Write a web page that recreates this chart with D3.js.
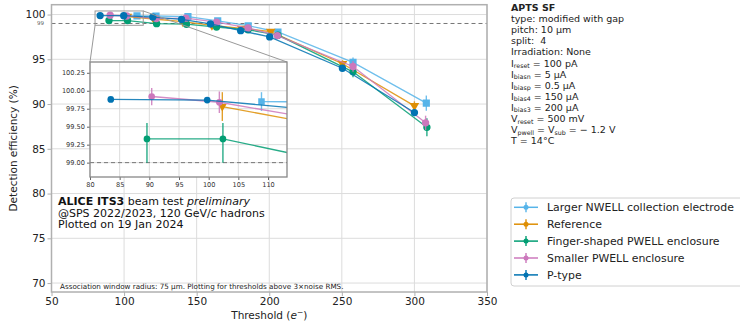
<!DOCTYPE html>
<html>
<head>
<meta charset="utf-8">
<script src="https://cdn.jsdelivr.net/npm/d3@7"></script>
<style>
  body { margin: 0; background: #fff; }
  svg { font-family: "DejaVu Sans", sans-serif; }
</style>
</head>
<body>
<div id="chart"></div>
<script>
// series
let names = ["Larger NWELL collection electrode", "Reference", "Finger-shaped PWELL enclosure", "Smaller PWELL enclosure", "P-type"];
let colors = ["#56b4e9", "#de8f05", "#029e73", "#cc78bc", "#0173b2"];
let symbols = ["square", "triangle", "circle", "circle", "circle"];

let xLarger = [108.9, 122, 144, 164.5, 185.5, 206, 257.7, 308.2];
let yLarger = [99.85, 99.84, 99.76, 99.3, 98.75, 98.05, 94.65, 90.1];
let eLarger = [0.13, 0.12, 0.15, 0.2, 0.25, 0.3, 0.55, 0.85];

let xRef = [102.3, 120.5, 140.5, 160.5, 181, 201, 250.5, 300];
let yRef = [99.78, 99.5, 99.2, 98.8, 98.45, 98.1, 94.5, 89.8];
let eRef = [0.2, 0.15, 0.15, 0.2, 0.2, 0.25, 0.4, 0.5];

let xFinger = [89.6, 102.4, 122.4, 143, 163.7, 185.4, 206, 257.7, 308.6];
let yFinger = [99.33, 99.33, 98.98, 98.92, 98.6, 98.3, 97.7, 93.6, 87.4];
let eFinger = [0.3, 0.3, 0.2, 0.2, 0.25, 0.3, 0.35, 0.6, 1.0];

let xSmaller = [90.4, 101.8, 122.2, 142.5, 163.7, 185.4, 205.6, 257.7, 307.7];
let ySmaller = [99.92, 99.84, 99.55, 99.6, 99.15, 98.5, 97.65, 94.2, 87.9];
let eSmaller = [0.12, 0.15, 0.15, 0.15, 0.2, 0.25, 0.3, 0.6, 0.8];

let xPtype = [83.5, 99.75, 119.8, 139.6, 159.5, 180.3, 200.3, 250.4, 300];
let yPtype = [99.88, 99.87, 99.72, 99.45, 98.95, 98.2, 97.5, 94.0, 89.05];
let ePtype = [0.03, 0.03, 0.05, 0.08, 0.1, 0.12, 0.15, 0.25, 0.3];

let xTicks = [50, 100, 150, 200, 250, 300, 350];
let yTicks = [70, 75, 80, 85, 90, 95, 100];
let insetXTicks = [80, 85, 90, 95, 100, 105, 110];
let insetYTicks = [99.00, 99.25, 99.50, 99.75, 100.00, 100.25];

let infoLines = [
  ["APTS SF"], ["type: modified with gap"], ["pitch: 10 µm"], ["split:  4"], ["Irradiation: None"],
  ["I", "reset", " = 100 pA"], ["I", "biasn", " = 5 µA"], ["I", "biasp", " = 0.5 µA"],
  ["I", "bias4", " = 150 µA"], ["I", "bias3", " = 200 µA"], ["V", "reset", " = 500 mV"],
  ["V", "pwell", " = V", "sub", " = − 1.2 V"], ["T = 14°C"]
];

let series = [
  { x: xLarger, y: yLarger, e: eLarger },
  { x: xRef, y: yRef, e: eRef },
  { x: xFinger, y: yFinger, e: eFinger },
  { x: xSmaller, y: ySmaller, e: eSmaller },
  { x: xPtype, y: yPtype, e: ePtype }
].map((s, i) => ({
  name: names[i], color: colors[i], symbol: symbols[i],
  pts: s.x.map((x, j) => ({ x: x, y: s.y[j], e: s.e[j] }))
}));
// the green points in the inset have a longer lower error bar
series[2].pts[0].lo = 0.33; series[2].pts[0].e = 0.22;
series[2].pts[1].lo = 0.33; series[2].pts[1].e = 0.22;

let width = 740, height = 324;
let svg = d3.select('#chart').append('svg')
  .attr('width', width).attr('height', height);

let mLeft = 51.5, mRight = 487, mTop = 4.7, mBottom = 292;
let x = d3.scaleLinear().domain([50, 350]).range([mLeft, mRight]);
let y = d3.scaleLinear().domain([69, 101.1]).range([mBottom, mTop]);

let gridColor = "#dcdcdc", frameColor = "#b0b0b0";

let defs = svg.append('defs');
defs.append('clipPath').attr('id', 'clipMain').append('rect')
  .attr('x', mLeft).attr('y', mTop).attr('width', mRight - mLeft).attr('height', mBottom - mTop);

// grid
svg.append('g').selectAll('line').data(xTicks).enter().append('line')
  .attr('x1', d => x(d)).attr('x2', d => x(d)).attr('y1', mTop).attr('y2', mBottom)
  .attr('stroke', gridColor).attr('stroke-width', 1);
svg.append('g').selectAll('line').data(yTicks).enter().append('line')
  .attr('y1', d => y(d)).attr('y2', d => y(d)).attr('x1', mLeft).attr('x2', mRight)
  .attr('stroke', gridColor).attr('stroke-width', 1);

// axes
let xAxis = svg.append('g').attr('transform', `translate(0,${mBottom})`)
  .call(d3.axisBottom(x).tickValues(xTicks).tickSize(4).tickPadding(2));
let yAxis = svg.append('g').attr('transform', `translate(${mLeft},0)`)
  .call(d3.axisLeft(y).tickValues(yTicks).tickSize(4).tickPadding(2));
[xAxis, yAxis].forEach(a => {
  a.select('.domain').remove();
  a.selectAll('line').attr('stroke', frameColor);
  a.selectAll('text').style('font-size', '10.5px').attr('fill', '#222').style('font-family', 'DejaVu Sans');
});

// small 99 label
svg.append('text').attr('x', 44).attr('y', y(99) + 2).attr('text-anchor', 'end')
  .style('font-size', '5.5px').attr('fill', '#555').text('99');

let main = svg.append('g').attr('clip-path', 'url(#clipMain)');

// dashed 99 line
main.append('line').attr('x1', mLeft).attr('x2', mRight).attr('y1', y(99)).attr('y2', y(99))
  .attr('stroke', '#777').attr('stroke-width', 1).attr('stroke-dasharray', '4,3');

function drawSeries(g, sx, sy, ms) {
  let line = d3.line().x(d => sx(d.x)).y(d => sy(d.y));
  series.forEach(s => {
    let sg = g.append('g');
    sg.append('path').datum(s.pts).attr('d', line)
      .attr('fill', 'none').attr('stroke', s.color).attr('stroke-width', 1.3).attr('opacity', 0.85);
    sg.selectAll('line.err').data(s.pts).enter().append('line')
      .attr('x1', d => sx(d.x)).attr('x2', d => sx(d.x))
      .attr('y1', d => sy(d.y - (d.lo !== undefined ? d.lo : d.e)))
      .attr('y2', d => sy(Math.min(d.y + d.e, 100.3)))
      .attr('stroke', s.color).attr('stroke-width', 1.4).attr('opacity', 0.85);
    let sym = s.symbol === 'square' ? d3.symbolSquare : s.symbol === 'triangle' ? d3.symbolTriangle : d3.symbolCircle;
    let area = s.symbol === 'square' ? ms * ms * 1.7 : s.symbol === 'triangle' ? ms * ms * 1.3 : ms * ms * 1.4;
    sg.selectAll('path.m').data(s.pts).enter().append('path')
      .attr('d', d3.symbol().type(sym).size(area))
      .attr('transform', d => `translate(${sx(d.x)},${sy(d.y)})` + (s.symbol === 'triangle' ? ' rotate(180)' : ''))
      .attr('fill', s.color);
  });
}
drawSeries(main, x, y, 5.5);

// frame
svg.append('rect').attr('x', mLeft).attr('y', mTop).attr('width', mRight - mLeft).attr('height', mBottom - mTop)
  .attr('fill', 'none').attr('stroke', frameColor).attr('stroke-width', 1.5);

// inset
let ix0 = 90, ix1 = 287, iy0 = 62, iy1 = 177;
let ix = d3.scaleLinear().domain([80, 113.2]).range([ix0, ix1]);
let iy = d3.scaleLinear().domain([98.8, 100.4]).range([iy1, iy0]);

// zoom box and connectors
let bx0 = x(80), bx1 = x(113.2), by0 = y(100.4), by1 = y(98.8);
svg.append('rect').attr('x', bx0).attr('y', by0).attr('width', bx1 - bx0).attr('height', by1 - by0)
  .attr('fill', 'none').attr('stroke', '#999').attr('stroke-width', 1);
svg.append('line').attr('x1', bx0).attr('y1', by1).attr('x2', ix0).attr('y2', iy0)
  .attr('stroke', '#999').attr('stroke-width', 1);
svg.append('line').attr('x1', bx1).attr('y1', by0).attr('x2', ix1).attr('y2', iy0)
  .attr('stroke', '#999').attr('stroke-width', 1);

defs.append('clipPath').attr('id', 'clipInset').append('rect')
  .attr('x', ix0).attr('y', iy0).attr('width', ix1 - ix0).attr('height', iy1 - iy0);

let inset = svg.append('g');
inset.append('rect').attr('x', ix0).attr('y', iy0).attr('width', ix1 - ix0).attr('height', iy1 - iy0)
  .attr('fill', '#fff');
inset.append('g').selectAll('line').data(insetXTicks).enter().append('line')
  .attr('x1', d => ix(d)).attr('x2', d => ix(d)).attr('y1', iy0).attr('y2', iy1)
  .attr('stroke', gridColor);
inset.append('g').selectAll('line').data(insetYTicks).enter().append('line')
  .attr('y1', d => iy(d)).attr('y2', d => iy(d)).attr('x1', ix0).attr('x2', ix1)
  .attr('stroke', gridColor);

let ixAxis = inset.append('g').attr('transform', `translate(0,${iy1})`)
  .call(d3.axisBottom(ix).tickValues(insetXTicks).tickSize(3).tickPadding(2));
let iyAxis = inset.append('g').attr('transform', `translate(${ix0},0)`)
  .call(d3.axisLeft(iy).tickValues(insetYTicks).tickSize(3).tickPadding(2).tickFormat(d3.format('.2f')));
[ixAxis, iyAxis].forEach(a => {
  a.select('.domain').remove();
  a.selectAll('line').attr('stroke', '#666');
  a.selectAll('text').style('font-size', '6.6px').attr('fill', '#333').style('font-family', 'DejaVu Sans');
});

let insetPlot = inset.append('g').attr('clip-path', 'url(#clipInset)');
insetPlot.append('line').attr('x1', ix0).attr('x2', ix1).attr('y1', iy(99)).attr('y2', iy(99))
  .attr('stroke', '#777').attr('stroke-width', 1).attr('stroke-dasharray', '4,3');
drawSeries(insetPlot, ix, iy, 5);
inset.append('rect').attr('x', ix0).attr('y', iy0).attr('width', ix1 - ix0).attr('height', iy1 - iy0)
  .attr('fill', 'none').attr('stroke', '#888').attr('stroke-width', 1.3);

// axis titles
svg.append('text').attr('transform', `translate(17,${(mTop + mBottom) / 2}) rotate(-90)`)
  .attr('text-anchor', 'middle').style('font-size', '10.5px').attr('fill', '#222')
  .text('Detection efficiency (%)');
let xt = svg.append('text').attr('x', (mLeft + mRight) / 2).attr('y', 319)
  .attr('text-anchor', 'middle').style('font-size', '10.5px').attr('fill', '#222');
xt.append('tspan').text('Threshold (');
xt.append('tspan').style('font-style', 'italic').text('e');
xt.append('tspan').attr('dy', -4).style('font-size', '7.5px').text('−');
xt.append('tspan').attr('dy', 4).text(')');

// ALICE label
let t1 = svg.append('text').attr('x', 58).attr('y', 205).style('font-size', '11px').attr('fill', '#111');
t1.append('tspan').style('font-weight', 'bold').text('ALICE ITS3');
t1.append('tspan').text(' beam test ');
t1.append('tspan').style('font-style', 'italic').text('preliminary');
let t2 = svg.append('text').attr('x', 58).attr('y', 216.5).style('font-size', '11px').attr('fill', '#111');
t2.append('tspan').text('@SPS 2022/2023, 120 GeV/');
t2.append('tspan').style('font-style', 'italic').text('c');
t2.append('tspan').text(' hadrons');
svg.append('text').attr('x', 58).attr('y', 228).style('font-size', '11px').attr('fill', '#111')
  .text('Plotted on 19 Jan 2024');

svg.append('text').attr('x', 60).attr('y', 289).style('font-size', '7.2px').attr('fill', '#222')
  .text('Association window radius: 75 µm. Plotting for thresholds above 3×noise RMS.');

// info panel
infoLines.forEach((parts, i) => {
  let t = svg.append('text').attr('x', 511).attr('y', 11 + i * 11.1)
    .style('font-size', '9.5px').style('white-space', 'pre').attr('fill', '#222');
  if (i === 0) t.style('font-weight', 'bold');
  parts.forEach((p, k) => {
    let ts = t.append('tspan').text(p);
    if (k % 2 === 1) ts.style('font-size', '6.3px').attr('dy', 1.5);
    else if (k > 0) ts.attr('dy', -1.5);
  });
});

// legend
let lg = svg.append('g');
lg.append('rect').attr('x', 511).attr('y', 198).attr('width', 240).attr('height', 88)
  .attr('rx', 3).attr('fill', '#fff').attr('stroke', '#d0d0d0').attr('stroke-width', 1);
series.forEach((s, i) => {
  let cy = 207.3 + i * 16.9;
  let g = lg.append('g');
  g.append('line').attr('x1', 514).attr('x2', 538).attr('y1', cy).attr('y2', cy)
    .attr('stroke', s.color).attr('stroke-width', 1.5);
  g.append('line').attr('x1', 526).attr('x2', 526).attr('y1', cy - 5).attr('y2', cy + 5)
    .attr('stroke', s.color).attr('stroke-width', 1.4);
  g.append('circle').attr('cx', 526).attr('cy', cy).attr('r', 2.5).attr('fill', s.color);
  g.append('text').attr('x', 547).attr('y', cy + 4).style('font-size', '10.9px').attr('fill', '#222')
    .text(s.name);
});
</script>
</body>
</html>
